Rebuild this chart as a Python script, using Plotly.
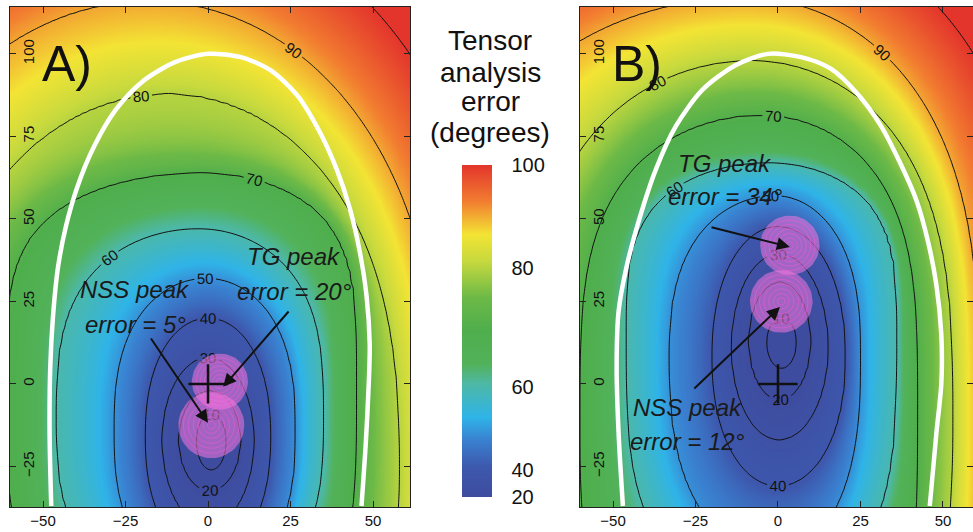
import numpy as np
import plotly.graph_objects as go

# ---------------- data ----------------
# contour levels (degrees) and the geometry of each contour ring, per panel
ring_levels = [10, 20, 30, 40, 50, 60, 70, 80, 90, 100]

a_xc    = [1.0, 0.5, 0.0, 0.0, -0.5, -3, -2, -12, -18, -18]
a_yc    = [-17.5, -17, -17, -16, -14, -10, 0, -25, -25, -25]
a_top   = [8.6, 15, 25, 36, 46, 57, 64, 113, 141, 170]
a_bot   = [8.6, 15.5, 26, 36, 46, 55, 80, 100, 120, 140]
a_left  = [4.5, 9.5, 14, 19, 28, 43, 59, 73, 91, 110]
a_right = [4.5, 9.5, 14, 19, 27, 38, 47, 70, 89, 108]
a_pow   = [2, 2, 2, 2.3, 2.6, 3, 4, 2.5, 2.5, 2.5]
a_min   = 2

b_xc    = [1.1, 0.5, 0.3, 0.0, -1, -3, -5, -8, -10, -10]
b_yc    = [12.5, 13, 11, 8, 8, 15, -10, -10, -10, -10]
b_top   = [7.8, 18, 28.5, 39.7, 49, 52, 91.5, 108, 127, 150]
b_bot   = [7.8, 18, 28, 39, 60, 80, 90, 100, 120, 140]
b_left  = [4.5, 9.5, 14.5, 20, 32, 43, 55, 68, 95, 115]
b_right = [4.5, 9.5, 15, 20.5, 26, 39, 47.3, 61, 71, 89]
b_pow   = [2, 2, 2, 2.2, 2.6, 3.5, 3.5, 3, 3, 3]
b_min   = 3

# colour bar: value -> position along bar (non-linear bar)
cb_levels = [20, 30, 40, 50, 60, 70, 80, 90, 100]
cb_pos    = [0.0, 0.035, 0.08, 0.19, 0.33, 0.51, 0.69, 0.85, 1.0]
cb_ticks  = ["20", "40", "60", "80", "100"]
cb_tickpos = [0.0, 0.08, 0.33, 0.69, 1.0]

# white boundary curves
a_wb_x = [-47.5, -48, -47.8, -47, -45.5, -43, -39.5, -34.5, -28, -20, -10, 0, 10, 19, 27, 33.5, 39, 43, 46, 48, 49, 48.7, 47.8, 46.5]
a_wb_y = [-37, -15, 5, 20, 35, 48, 60, 72, 83, 91.5, 97.5, 100, 99, 95, 87.5, 77, 65, 53, 40, 27, 12, 0, -18, -37]
b_wb_x = [-47, -48.3, -48.9, -48.3, -46, -42, -37, -31, -23, -13, -3, 7, 16, 24, 31, 37, 42, 45.5, 48, 49.5, 49.5, 48, 46]
b_wb_y = [-37, -15, 5, 22, 35, 50, 65, 78, 89, 96.5, 100, 99, 95.5, 88, 78.5, 67, 55.5, 43, 30, 15, 0, -15, -37]

# peak density blobs (TG, NSS)
a_peak_x = [3.6, 1.0]
a_peak_y = [0.7, -12.5]
a_peak_r = [8.5, 10.0]
b_peak_x = [3.6, 1.0]
b_peak_y = [42.0, 25.0]
b_peak_r = [9.0, 9.5]

# annotation texts
a_nss = ["NSS peak", "error = 5°"]
a_tg = ["TG peak", "error = 20°"]
b_nss = ["NSS peak", "error = 12°"]
b_tg = ["TG peak", "error = 34°"]
# arrow heads / tails (data coords)
a_nss_arrow = [(0, -11.8), (-17.6, 14.2)]
a_tg_arrow = [(4.6, -0.9), (24.8, 22.4)]
b_tg_arrow = [(3.6, 41.5), (-20.6, 47.6)]
b_nss_arrow = [(0.6, 23.3), (-25.8, -1.8)]

xticks = [-50, -25, 0, 25, 50]
yticks = [-25, 0, 25, 50, 75, 100]

# ---------------- build fields from ring geometry ----------------
xs = np.arange(-61, 62.01, 1.0)
ys = np.arange(-39, 116.01, 1.0)
X, Y = np.meshgrid(xs, ys)


def ring_field(xc, yc, top, bot, left, right, pw, vmin):
    lv = np.array(ring_levels, float)
    rs = []
    for k in range(len(lv)):
        dx = X - xc[k]
        dy = Y - yc[k]
        a = np.where(dx < 0, left[k], right[k])
        b = np.where(dy > 0, top[k], bot[k])
        f = (np.abs(dx) / a) ** 2 + (np.abs(dy) / b) ** pw[k]
        rs.append(np.sqrt(f))
    rs = np.array(rs)
    n = len(lv)
    cnt = (rs >= 1).sum(axis=0)
    Z = vmin + (lv[0] - vmin) * np.minimum(rs[0], 1) ** 2
    for k in range(n - 1):
        m = cnt == k + 1
        den = np.maximum(rs[k] - rs[k + 1], 1e-3)
        v = lv[k] + (lv[k + 1] - lv[k]) * (rs[k] - 1) / den
        Z = np.where(m, v, Z)
    m = cnt >= n
    den = np.maximum(rs[-2] - rs[-1], 0.05)
    v = lv[-1] + (lv[-1] - lv[-2]) * (rs[-1] - 1) / den
    Z = np.where(m, v, Z)
    return np.clip(Z, 0, 110)


ZA = ring_field(a_xc, a_yc, a_top, a_bot, a_left, a_right, a_pow, a_min)
ZB = ring_field(b_xc, b_yc, b_top, b_bot, b_left, b_right, b_pow, b_min)
TA = np.round(np.interp(ZA, cb_levels, cb_pos), 3)
TB = np.round(np.interp(ZB, cb_levels, cb_pos), 3)
ZA = np.round(ZA, 2)
ZB = np.round(ZB, 2)

colorscale = [
    [0.0, "#3e4c9f"], [0.09, "#3d58ad"], [0.17, "#3a80d0"], [0.24, "#2fb4e8"],
    [0.34, "#4db8a6"], [0.40, "#52b25a"], [0.50, "#4fae4c"], [0.60, "#6cb947"],
    [0.71, "#c6d93e"], [0.79, "#f3e434"], [0.89, "#f27d30"], [1.0, "#e3352c"],
]

FONT = "Liberation Sans, Arial, sans-serif"
W, H = 973, 532
theta = np.linspace(0, 2 * np.pi, 73)

fig = go.Figure()

panels = [
    (TA, ZA, a_wb_x, a_wb_y, a_peak_x, a_peak_y, a_peak_r, "x", "y"),
    (TB, ZB, b_wb_x, b_wb_y, b_peak_x, b_peak_y, b_peak_r, "x2", "y2"),
]
for i, (T, Z, wx, wy, pkx, pky, pkr, xa, ya) in enumerate(panels):
    hm = dict(
        x=xs, y=ys, z=T, zmin=0, zmax=1, colorscale=colorscale, zsmooth="best",
        xaxis=xa, yaxis=ya, hoverinfo="skip",
    )
    if i == 0:
        hm["colorbar"] = dict(
            x=462 / W, xanchor="left", xpad=0, ypad=0, thickness=30,
            len=332 / H, y=1 - 331 / H, yanchor="middle",
            tickvals=cb_tickpos, ticktext=cb_ticks, ticks="outside", ticklen=16,
            tickcolor="rgba(0,0,0,0)", tickfont=dict(size=20, family=FONT, color="#111"),
            outlinewidth=0,
        )
        hm["showscale"] = True
    else:
        hm["showscale"] = False
    fig.add_trace(go.Heatmap(**hm))
    fig.add_trace(go.Contour(
        x=xs, y=ys, z=Z, xaxis=xa, yaxis=ya, showscale=False, hoverinfo="skip",
        contours=dict(start=10, end=100, size=10, coloring="none", showlabels=True,
                      labelfont=dict(size=15, family=FONT, color="#111")),
        line=dict(color="#111", width=1, smoothing=1.0),
    ))
    # peak density blobs
    for cx, cy, r in zip(pkx, pky, pkr):
        fig.add_trace(go.Scatter(
            x=cx + r * np.cos(theta), y=cy + r * np.sin(theta), mode="lines",
            fill="toself", fillcolor="rgba(255,120,225,0.52)", line=dict(width=0),
            xaxis=xa, yaxis=ya, hoverinfo="skip", showlegend=False,
        ))
        for fct in [0.85, 0.7, 0.55, 0.4, 0.25, 0.12]:
            rr = r * fct
            fig.add_trace(go.Scatter(
                x=cx + rr * np.cos(theta), y=cy + rr * np.sin(theta), mode="lines",
                line=dict(width=0.8, color="rgba(235,90,215,0.8)"),
                xaxis=xa, yaxis=ya, hoverinfo="skip", showlegend=False,
            ))
    fig.add_trace(go.Scatter(
        x=wx, y=wy, mode="lines", line=dict(color="white", width=4.5, shape="spline", smoothing=0.8),
        xaxis=xa, yaxis=ya, hoverinfo="skip", showlegend=False,
    ))
    fig.add_trace(go.Scatter(
        x=[0], y=[0], mode="markers", xaxis=xa, yaxis=ya, hoverinfo="skip", showlegend=False,
        marker=dict(symbol="cross-thin", size=28, line=dict(width=2.5, color="#111")),
    ))

ann = []


def label_lines(lines, x, y0, y1, xr, yr):
    for t, yy in zip(lines, [y0, y1]):
        ann.append(dict(text="<i>" + t + "</i>", x=x, y=yy, xref=xr, yref=yr, showarrow=False,
                        font=dict(size=24, family=FONT, color="#1a1a1a"),
                        xanchor="center", yanchor="middle"))


def arrow(hd, tl, xr, yr):
    ann.append(dict(text="", x=hd[0], y=hd[1], ax=tl[0], ay=tl[1], xref=xr, yref=yr,
                    axref=xr, ayref=yr, showarrow=True, arrowhead=2, arrowsize=1.3,
                    arrowwidth=2, arrowcolor="#111", standoff=0))


label_lines(a_nss, -22.0, 28.5, 17.9, "x", "y")
label_lines(a_tg, 26.2, 38.5, 27.9, "x", "y")
label_lines(b_tg, -16.0, 66.9, 56.7, "x2", "y2")
label_lines(b_nss, -27.4, -7.0, -17.6, "x2", "y2")
arrow(*a_nss_arrow, "x", "y")
arrow(*a_tg_arrow, "x", "y")
arrow(*b_tg_arrow, "x2", "y2")
arrow(*b_nss_arrow, "x2", "y2")

ann.append(dict(text="A)", x=-42.7, y=97, xref="x", yref="y", showarrow=False,
                font=dict(size=50, family=FONT, color="#111")))
ann.append(dict(text="B)", x=-42.7, y=97, xref="x2", yref="y2", showarrow=False,
                font=dict(size=50, family=FONT, color="#111")))

for t, py in zip(["Tensor", "analysis", "error", "(degrees)"], [40, 72, 102, 132]):
    ann.append(dict(text=t, x=490 / W, y=1 - py / H, xref="paper", yref="paper",
                    showarrow=False, xanchor="center", yanchor="middle",
                    font=dict(size=28, family=FONT, color="#111")))

axis_common = dict(showline=True, linecolor="#222", linewidth=1, mirror="ticks",
                   ticks="inside", ticklen=6, tickcolor="#222", showgrid=False,
                   zeroline=False, tickfont=dict(size=15, family=FONT, color="#111"))

fig.update_layout(
    width=W, height=H, margin=dict(l=0, r=0, t=0, b=0),
    paper_bgcolor="white", plot_bgcolor="white", showlegend=False,
    xaxis=dict(domain=[10 / W, 410 / W], range=[-60, 61.2], tickvals=xticks, anchor="y", **axis_common),
    yaxis=dict(domain=[25 / H, 525 / H], range=[-37.3, 114.2], tickvals=yticks, anchor="x",
               tickangle=-90, ticklabelposition="inside", **axis_common),
    xaxis2=dict(domain=[580 / W, 1.0], range=[-60, 59.1], tickvals=xticks, anchor="y2", **axis_common),
    yaxis2=dict(domain=[25 / H, 525 / H], range=[-37.3, 114.2], tickvals=yticks, anchor="x2",
                tickangle=-90, ticklabelposition="inside", **axis_common),
    annotations=ann,
)

fig.write_html("out.html")
